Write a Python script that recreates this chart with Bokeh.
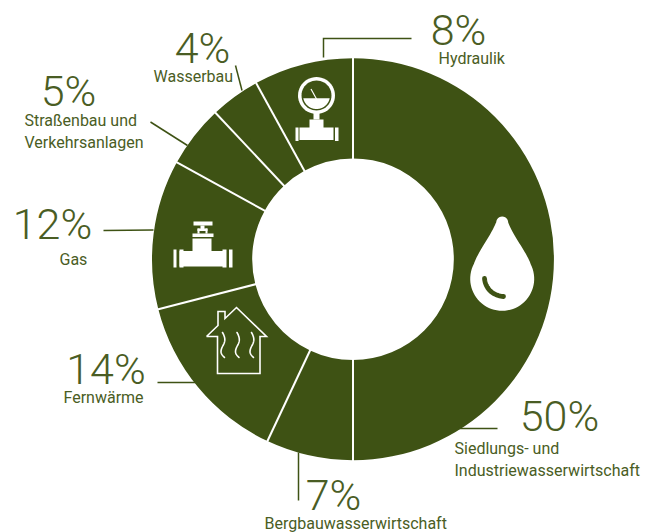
import math
from bokeh.plotting import figure
from bokeh.models import Range1d
from bokeh.core.properties import value
from bokeh.embed import file_html
from bokeh.resources import INLINE

# Share of each sector, clockwise from twelve o'clock
sectors = ["Siedlungs- und Industriewasserwirtschaft", "Bergbauwasserwirtschaft", "Fernwärme",
           "Gas", "Straßenbau und Verkehrsanlagen", "Wasserbau", "Hydraulik"]
shares = [50, 7, 14, 12, 5, 4, 8]
pct_labels = ["50%", "7%", "14%", "12%", "5%", "4%", "8%"]

W, H = 658, 532
GREEN = "#3e5214"
TEXT = "#4a5d24"
CX, CY = 352.5, 258.7
R_OUT, R_IN = 201, 100.8


def Y(py):
    return H - py


p = figure(width=W, height=H, x_range=Range1d(0, W), y_range=Range1d(0, H),
           output_backend="svg", toolbar_location=None, min_border=0,
           outline_line_color=None, background_fill_color="white")
p.axis.visible = False
p.grid.visible = False

# Ring
total = sum(shares)
cum = 0
for s in shares:
    a0 = math.pi / 2 - 2 * math.pi * cum / total
    a1 = math.pi / 2 - 2 * math.pi * (cum + s) / total
    p.annular_wedge(x=CX, y=Y(CY), inner_radius=R_IN, outer_radius=R_OUT, start_angle=a0, end_angle=a1,
                    direction="clock", fill_color=GREEN, line_color=None)
    cum += s
cum = 0
for s in shares:
    a = math.pi / 2 - 2 * math.pi * cum / total
    p.segment(CX + (R_IN - 1) * math.cos(a), Y(CY) + (R_IN - 1) * math.sin(a),
              CX + (R_OUT + 1) * math.cos(a), Y(CY) + (R_OUT + 1) * math.sin(a),
              line_color="white", line_width=2)
    cum += s


def rect(x0, y0, x1, y1, color="white"):
    p.quad(left=x0, right=x1, top=Y(y0), bottom=Y(y1), fill_color=color, line_color=None)


def line(pts, color=GREEN, width=1.5, cap="butt", join="miter"):
    p.line([q[0] for q in pts], [Y(q[1]) for q in pts], line_color=color, line_width=width,
           line_cap=cap, line_join=join)


def arc_pts(cx, cy, r, d0, d1, n=48):
    return [(cx + r * math.cos(math.radians(d0 + (d1 - d0) * i / n)),
             cy + r * math.sin(math.radians(d0 + (d1 - d0) * i / n))) for i in range(n + 1)]


def poly(pts, color="white"):
    p.patch([q[0] for q in pts], [Y(q[1]) for q in pts], fill_color=color, line_color=None)


def bez(P0, P1, P2, P3, n=24):
    out = []
    for i in range(n + 1):
        t = i / n
        u = 1 - t
        out.append((u**3 * P0[0] + 3 * u * u * t * P1[0] + 3 * u * t * t * P2[0] + t**3 * P3[0],
                    u**3 * P0[1] + 3 * u * u * t * P1[1] + 3 * u * t * t * P2[1] + t**3 * P3[1]))
    return out


# Pressure gauge on a pipe
poly(arc_pts(316, 95, 18.5, 0, 360))
poly(arc_pts(316, 95, 15, 0, 360), GREEN)
poly(arc_pts(316, 95, 13.5, 12, 168))
line([(310.5, 88.5), (316, 98.5)], "white", 1.2)
rect(313, 112, 319, 119)
rect(309, 119, 323, 128)
rect(299, 127, 333, 139.5)
rect(295, 127, 298, 140.5)
rect(334.5, 127, 338, 140.5)

# Valve on a pipe
rect(193, 221, 212, 225)
rect(200, 225, 204, 229)
rect(197, 228, 207, 230.5)
rect(197, 228, 199, 233)
rect(205, 228, 207, 233)
rect(192, 233, 213, 236.5)
rect(192, 238, 211, 252)
rect(179, 250.5, 225, 266)
rect(179, 249, 183, 267)
rect(222, 249, 226, 267)
rect(173, 249, 176, 267)
rect(228.5, 249, 232, 267)

# House with rising heat
outline = [(206, 336), (217, 336), (217, 373), (259.5, 373), (259.5, 336),
           (266, 336), (236, 307), (224.5, 318), (224.5, 311), (217.5, 311), (217.5, 325), (206, 336)]
line(outline, "white", 1.6)
for wx in (222, 236.5, 251):
    line(bez((wx, 332), (wx + 4, 339), (wx + 2, 342), (wx, 346)) +
         bez((wx, 346), (wx - 3, 352), (wx - 1, 354), (wx + 2, 357)), "white", 1.6, "round", "round")

# Water drop
drop = arc_pts(501.7, 278.3, 32, -28, 208)
drop += bez(drop[-1], (478, 250), (490, 236), (496, 221))
drop += arc_pts(501.7, 222, 6, 180, 360, 12)
drop += bez((507.7, 222), (513, 236), (525, 250), (530, 263))
poly(drop)
line(bez((484, 278), (485, 288), (492, 295), (503, 296)), GREEN, 4.8, "round", "round")

# Leader lines
line([(323, 57), (323, 38), (411, 38)])
line([(103, 230), (153, 229.5)])
line([(157, 382), (195, 382)])
line([(298, 452), (298, 500)])
line([(150, 121.5), (187, 145)])
line([(235, 65), (241.5, 90)])
line([(458, 428), (497, 428)])

# Percentages and sector names
pct_pos = [(559, 415.5), (333, 494.5), (105.5, 368.5), (52, 223.5), (68, 90.5), (202, 47.5), (458, 29)]
for t, (x, y) in zip(pct_labels, pct_pos):
    p.text([x], [Y(y)], text=[t], text_font=value("Roboto Light"), text_font_size="43px", text_color=TEXT,
           text_align="center", text_baseline="middle")

name_rows = [
    [("Siedlungs- und", 454, 448), ("Industriewasserwirtschaft", 454, 470)],
    [("Bergbauwasserwirtschaft", 264, 522.5)],
    [("Fernwärme", 63, 397)],
    [("Gas", 59, 259)],
    [("Straßenbau und", 24, 120), ("Verkehrsanlagen", 24, 142)],
    [("Wasserbau", 153, 76)],
    [("Hydraulik", 438, 58)],
]
for rows in name_rows:
    for t, x, y in rows:
        p.text([x], [Y(y)], text=[t], text_font=value("Roboto"), text_font_size="16px", text_color=TEXT,
               text_align="left", text_baseline="middle")

open("out.html", "w").write(file_html(p, INLINE))
